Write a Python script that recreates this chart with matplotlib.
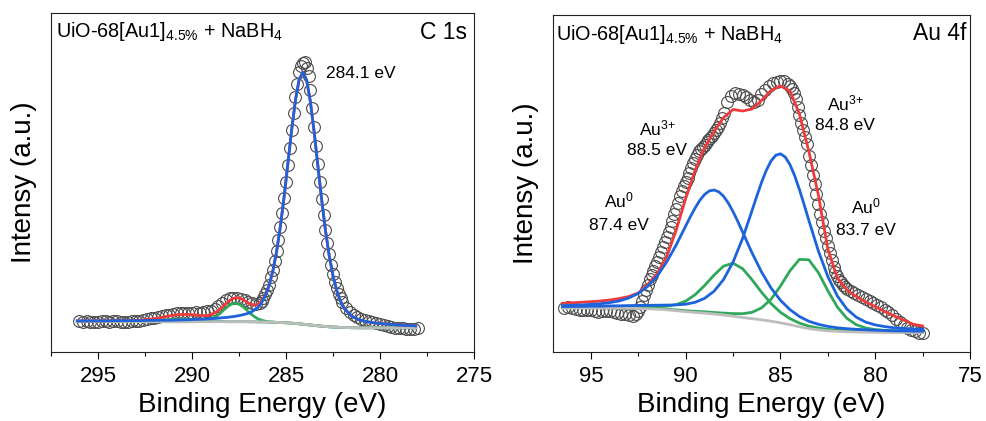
import matplotlib
matplotlib.use("Agg")
import matplotlib.pyplot as plt
from matplotlib.ticker import MultipleLocator

plt.rcParams["font.family"] = ["Liberation Sans", "DejaVu Sans"]
plt.rcParams["mathtext.fontset"] = "custom"
plt.rcParams["mathtext.rm"] = "Liberation Sans"
plt.rcParams["mathtext.it"] = "Liberation Sans:italic"
plt.rcParams["mathtext.bf"] = "Liberation Sans:bold"

# ---------------- C 1s panel ----------------
c1s_energy = [
    296.0, 295.8, 295.6, 295.4, 295.2, 295.0, 294.8, 294.6, 294.4, 294.2,
    294.0, 293.8, 293.6, 293.4, 293.2, 293.0, 292.8, 292.6, 292.4, 292.2,
    292.0, 291.8, 291.6, 291.4, 291.2, 291.0, 290.8, 290.6, 290.4, 290.2,
    290.0, 289.8, 289.6, 289.4, 289.2, 289.0, 288.8, 288.6, 288.4, 288.2,
    288.0, 287.8, 287.6, 287.4, 287.2, 287.0, 286.8, 286.6, 286.4,
    286.3, 286.2, 286.1, 286.0, 285.9, 285.8, 285.7, 285.6, 285.5, 285.4,
    285.3, 285.2, 285.1, 285.0, 284.9, 284.8, 284.7, 284.6, 284.5, 284.4,
    284.3, 284.2, 284.1, 284.0, 283.9, 283.8, 283.7, 283.6, 283.5, 283.4,
    283.3, 283.2, 283.1, 283.0, 282.9, 282.8, 282.7, 282.6, 282.5, 282.4,
    282.3, 282.2, 282.1, 282.0,
    281.8, 281.6, 281.4, 281.2, 281.0, 280.8, 280.6, 280.4, 280.2, 280.0,
    279.8, 279.6, 279.4, 279.2, 279.0, 278.8, 278.6, 278.4, 278.2, 278.0,
]
c1s_counts = [
    30.8, 30.2, 31.0, 30.5, 29.8, 30.4, 31.2, 30.6, 30.0, 30.8,
    31.3, 30.5, 29.9, 30.4, 31.0, 30.7, 31.5, 32.3, 33.0, 33.6,
    34.5, 35.3, 36.0, 36.8, 37.5, 38.0, 38.6, 38.8, 39.2, 39.0,
    39.4, 39.8, 39.5, 40.0, 40.6, 41.5, 43.5, 46.0, 49.0, 51.8,
    53.6, 54.5, 54.0, 53.2, 52.0, 50.3, 48.8, 48.0, 48.6,
    51.5, 54.5, 58.0, 62.0, 67.5, 75.0, 82.0, 91.0, 101.0, 112.0,
    125.0, 139.0, 154.0, 170.0, 187.0, 204.0, 222.0, 239.0, 255.0, 268.0,
    280.0, 286.0, 289.5, 290.0, 284.0, 276.0, 262.0, 244.0, 225.0, 206.0,
    188.0, 170.0, 153.0, 137.0, 122.5, 109.5, 98.0, 87.5, 78.5, 70.5,
    64.0, 58.5, 54.0, 50.0,
    44.5, 40.5, 37.5, 35.5, 33.5, 32.5, 31.0, 30.0, 29.0, 28.2,
    27.0, 26.0, 25.3, 24.5, 24.0, 23.6, 23.5, 23.3, 23.2, 24.0,
]

c1s_fit_energy = [
    296.1, 295.1, 294.1, 293.1, 292.1, 291.5, 291.1, 290.7, 290.3, 289.9,
    289.5, 289.1, 288.7, 288.5, 288.3, 288.1, 287.9, 287.7, 287.5, 287.3,
    287.1, 286.9, 286.7, 286.5, 286.3, 286.1, 285.9, 285.7, 285.5, 285.3,
    285.1, 284.9, 284.7, 284.5, 284.3, 284.1, 283.9, 283.7, 283.5, 283.3,
    283.1, 282.9, 282.7, 282.5, 282.3, 282.1, 281.9, 281.5, 281.1, 280.7,
    280.3, 279.7, 279.1, 278.5, 278.1,
]
c1s_background = [
    30.6, 30.5, 30.5, 30.4, 30.4, 30.3, 30.3, 30.3, 30.3, 30.3,
    30.3, 30.3, 30.3, 30.3, 30.3, 30.3, 30.3, 30.3, 30.3, 30.3,
    30.3, 30.2, 30.2, 30.1, 30.1, 30.0, 29.9, 29.8, 29.6, 29.5,
    29.3, 29.1, 28.8, 28.5, 28.2, 27.8, 27.4, 27.0, 26.6, 26.2,
    25.8, 25.5, 25.2, 25.0, 24.8, 24.6, 24.5, 24.3, 24.2, 24.2,
    24.2, 24.2, 24.2, 24.2, 24.2,
]
c1s_cc = [  # C-C / C=C, 284.1 eV
    31.1, 31.1, 31.3, 31.3, 31.6, 31.7, 31.8, 32.0, 32.2, 32.5,
    32.8, 33.2, 33.7, 34.0, 34.4, 34.7, 35.2, 35.7, 36.4, 37.2,
    38.2, 39.5, 41.6, 44.5, 49.2, 56.2, 66.4, 81.0, 100.5, 125.5,
    155.3, 188.4, 221.8, 251.5, 272.5, 279.8, 271.7, 250.0, 219.6, 185.5,
    151.8, 121.5, 96.1, 76.2, 61.3, 50.8, 43.6, 35.7, 32.1, 30.3,
    29.1, 27.9, 27.1, 26.5, 26.2,
]
c1s_co = [  # O-C=O
    30.6, 30.5, 30.5, 30.4, 30.4, 30.3, 30.3, 30.3, 30.3, 30.3,
    30.6, 31.9, 35.7, 38.7, 42.2, 45.5, 47.9, 48.8, 47.9, 45.5,
    42.2, 38.6, 35.6, 33.2, 31.7, 30.8, 30.2, 29.9, 29.6, 29.5,
    29.3, 29.1, 28.8, 28.5, 28.2, 27.8, 27.4, 27.0, 26.6, 26.2,
    25.8, 25.5, 25.2, 25.0, 24.8, 24.6, 24.5, 24.3, 24.2, 24.2,
    24.2, 24.2, 24.2, 24.2, 24.2,
]
c1s_sat = [  # shake-up
    30.6, 30.5, 30.5, 30.4, 31.4, 32.1, 32.5, 32.7, 32.7, 32.5,
    32.0, 31.3, 30.8, 30.6, 30.5, 30.3, 30.3, 30.3, 30.3, 30.3,
    30.3, 30.2, 30.2, 30.1, 30.1, 30.0, 29.9, 29.8, 29.6, 29.5,
    29.3, 29.1, 28.8, 28.5, 28.2, 27.8, 27.4, 27.0, 26.6, 26.2,
    25.8, 25.5, 25.2, 25.0, 24.8, 24.6, 24.5, 24.3, 24.2, 24.2,
    24.2, 24.2, 24.2, 24.2, 24.2,
]
c1s_envelope = [
    31.1, 31.1, 31.3, 31.4, 33.1, 35.0, 36.5, 37.4, 37.6, 37.2,
    36.4, 36.6, 39.9, 42.7, 46.5, 49.9, 52.8, 54.2, 54.0, 52.4,
    50.1, 47.9, 47.0, 47.6, 50.8, 57.0, 66.8, 81.1, 100.5, 125.5,
    155.3, 188.4, 221.8, 251.5, 272.5, 279.8, 271.7, 250.0, 219.6, 185.5,
    151.8, 121.5, 96.1, 76.2, 61.3, 50.8, 43.6, 35.7, 32.1, 30.3,
    29.1, 27.9, 27.1, 26.5, 26.2,
]

# ---------------- Au 4f panel ----------------
au_energy = [
    96.4, 96.2, 96.0, 95.8, 95.6, 95.4, 95.2, 95.0, 94.8, 94.6,
    94.4, 94.2, 94.0, 93.8, 93.6, 93.4, 93.2, 93.0, 92.8, 92.6,
    92.5, 92.4, 92.3, 92.2, 92.1, 92.0, 91.9, 91.8, 91.7, 91.6,
    91.5, 91.4, 91.3, 91.2, 91.1, 91.0, 90.9, 90.8, 90.7, 90.6,
    90.5, 90.4, 90.3, 90.2, 90.1, 90.0, 89.9, 89.8, 89.7, 89.6,
    89.5, 89.4, 89.3, 89.2, 89.1, 89.0, 88.9, 88.8, 88.7, 88.6,
    88.5, 88.4, 88.3, 88.2, 88.1, 88.0,
    87.8, 87.6, 87.4, 87.2, 87.0, 86.8, 86.6, 86.4, 86.2, 86.0,
    85.8, 85.6, 85.4, 85.2, 85.0, 84.8, 84.6,
    84.5, 84.4, 84.3, 84.2, 84.1, 84.0, 83.9, 83.8, 83.7, 83.6,
    83.5, 83.4, 83.3, 83.2, 83.1, 83.0, 82.9, 82.8, 82.7, 82.6,
    82.5, 82.4, 82.3, 82.2, 82.1, 82.0, 81.9, 81.8, 81.7, 81.6,
    81.5,
    81.3, 81.1, 80.9, 80.7, 80.5, 80.3, 80.1, 79.9, 79.7, 79.5,
    79.3, 79.1, 78.9, 78.7, 78.5, 78.3, 78.1, 77.9, 77.7, 77.5,
]
au_counts = [
    44.5, 45.0, 44.0, 42.8, 42.0, 41.8, 42.5, 42.0, 41.0, 40.2,
    40.6, 41.5, 41.2, 40.0, 39.0, 38.2, 38.0, 37.0, 36.5, 38.0,
    41.0, 45.5, 51.0, 57.0, 62.5, 67.5, 73.0, 77.5, 81.5, 86.0,
    90.5, 95.0, 100.0, 105.0, 110.0, 115.0, 120.0, 125.5, 131.5, 138.0,
    143.0, 149.5, 156.0, 161.5, 166.0, 170.0, 174.5, 179.5, 184.5, 189.5,
    193.5, 197.5, 201.0, 203.5, 205.5, 207.5, 210.0, 212.0, 214.0, 216.5,
    219.5, 222.5, 225.5, 229.5, 234.0, 239.5,
    250.5, 256.5, 258.7, 258.5, 257.0, 255.0, 252.5, 250.5, 252.5, 258.5,
    262.5, 266.0, 269.0, 270.5, 271.3, 271.0, 268.5,
    266.0, 263.0, 259.0, 253.0, 245.0, 237.5, 229.5, 222.5, 215.0, 208.0,
    196.0, 187.0, 177.5, 168.0, 158.0, 148.0, 138.0, 130.0, 121.5, 114.0,
    106.5, 99.5, 92.0, 85.0, 80.0, 76.0, 72.5, 70.0, 67.5, 65.5,
    63.5,
    61.0, 59.0, 57.0, 55.5, 53.5, 51.5, 49.5, 47.5, 45.0, 42.5,
    40.0, 37.0, 33.5, 30.0, 27.0, 24.5, 22.5, 21.0, 19.5, 18.7,
]

au_fit_energy = [
    96.5, 96.0, 95.5, 95.0, 94.5, 94.0, 93.5, 93.0, 92.5, 92.0,
    91.5, 91.0, 90.5, 90.0, 89.5, 89.0, 88.5, 88.0, 87.5, 87.0,
    86.5, 86.0, 85.5, 85.0, 84.5, 84.0, 83.5, 83.0, 82.5, 82.0,
    81.5, 81.0, 80.5, 80.0, 79.5, 79.0, 78.5, 78.0, 77.5,
]
au_background = [
    44.0, 44.0, 44.0, 44.0, 43.9, 43.9, 43.8, 43.7, 43.5, 43.2,
    42.8, 42.2, 41.3, 40.4, 39.6, 38.9, 38.0, 37.0, 35.8, 34.5,
    33.3, 32.2, 30.8, 29.2, 27.3, 25.2, 23.4, 22.2, 21.2, 20.6,
    20.2, 20.0, 19.8, 19.7, 19.6, 19.5, 19.5, 19.5, 19.5,
]
au3_52_energy = [
    96.5, 96.0, 95.5, 95.0, 94.5, 94.0, 93.5, 93.0, 92.5, 92.0,
    91.5, 91.0, 90.5, 90.0, 89.75, 89.5, 89.25, 89.0, 88.75, 88.5,
    88.25, 88.0, 87.75, 87.5, 87.25, 87.0, 86.5, 86.0, 85.5, 85.0,
    84.5, 84.0, 83.5, 83.0, 82.5, 82.0, 81.5, 81.0, 80.5, 80.0,
    79.5, 79.0, 78.5, 78.0, 77.5,
]
au3_52 = [  # Au3+ 4f5/2, 88.5 eV
    46.4, 46.7, 47.1, 47.6, 48.3, 49.4, 51.1, 54.0, 58.6, 65.7,
    76.1, 90.1, 107.1, 126.0, 135.4, 144.1, 151.8, 157.6, 161.1, 162.0,
    160.1, 155.7, 148.9, 140.3, 130.6, 120.1, 99.1, 80.1, 64.1, 51.7,
    42.4, 35.5, 30.7, 27.7, 25.6, 24.2, 23.3, 22.7, 22.2, 21.8,
    21.5, 21.2, 21.1, 20.9, 20.8,
]
au3_72_energy = [
    96.5, 96.0, 95.5, 95.0, 94.5, 94.0, 93.5, 93.0, 92.5, 92.0,
    91.5, 91.0, 90.5, 90.0, 89.5, 89.0, 88.5, 88.0, 87.5, 87.0,
    86.5, 86.25, 86.0, 85.75, 85.5, 85.25, 85.0, 84.75, 84.5, 84.25,
    84.0, 83.75, 83.5, 83.0, 82.5, 82.0, 81.5, 81.0, 80.5, 80.0,
    79.5, 79.0, 78.5, 78.0, 77.5,
]
au3_72 = [  # Au3+ 4f7/2, 84.8 eV
    45.4, 45.5, 45.6, 45.8, 45.8, 46.1, 46.2, 46.4, 46.6, 46.7,
    46.8, 46.9, 47.1, 47.8, 49.7, 53.7, 60.8, 72.5, 90.0, 113.4,
    141.4, 155.8, 169.5, 181.5, 191.0, 196.7, 198.2, 195.0, 187.5, 176.3,
    162.5, 147.3, 131.5, 101.1, 75.4, 56.1, 43.0, 34.8, 29.9, 27.1,
    25.4, 24.2, 23.5, 23.0, 22.6,
]
au0_52 = [  # Au0 4f5/2, 87.4 eV
    44.5, 44.5, 44.6, 44.7, 44.6, 44.8, 44.8, 44.9, 44.9, 45.0,
    45.2, 45.9, 47.4, 50.9, 57.3, 66.5, 77.0, 85.9, 88.8, 83.4,
    72.3, 59.8, 48.5, 39.7, 33.4, 28.9, 25.8, 24.0, 22.6, 21.8,
    21.2, 20.9, 20.5, 20.4, 20.2, 20.0, 20.0, 19.9, 19.9,
]
au0_72 = [  # Au0 4f7/2, 83.7 eV
    44.2, 44.3, 44.3, 44.3, 44.2, 44.3, 44.2, 44.1, 44.0, 43.7,
    43.4, 42.9, 42.1, 41.3, 40.7, 40.2, 39.5, 38.9, 38.4, 38.3,
    39.7, 44.1, 52.7, 65.9, 81.2, 92.6, 92.2, 79.4, 61.3, 45.0,
    33.7, 27.3, 24.0, 22.4, 21.6, 21.1, 20.8, 20.6, 20.5,
]
au_envelope = [
    48.7, 49.2, 49.8, 50.3, 51.0, 52.0, 53.5, 55.5, 59.0, 67.5,
    78.5, 95.5, 122.0, 153.5, 182.0, 204.5, 220.5, 234.5, 242.5, 241.0,
    243.0, 251.5, 261.5, 266.0, 261.0, 238.0, 200.5, 157.0, 103.0, 74.0,
    62.0, 55.5, 50.0, 45.3, 40.5, 36.0, 32.0, 27.8, 26.0,
]

BLUE = "#1d63dc"
RED = "#ee3b3b"
GREEN = "#2fa85a"
GRAY = "#bdbdbd"
DOT = "#4a4a4a"
LW = 2.0


def style_axis(ax, xlim, major):
    ax.set_xlim(*xlim)
    ax.set_xticks(major)
    ax.xaxis.set_minor_locator(MultipleLocator(2.5))
    ax.set_yticks([])
    ax.tick_params(axis="x", which="major", direction="out", length=5,
                   width=0.8, labelsize=16, pad=5)
    ax.tick_params(axis="x", which="minor", direction="out", length=3, width=0.8)
    for s in ax.spines.values():
        s.set_linewidth(0.8)
        s.set_color("#222222")
    ax.set_xlabel("Binding Energy (eV)", fontsize=20, labelpad=4)
    ax.set_ylabel("Intensy (a.u.)", fontsize=20, labelpad=10)


fig = plt.figure(figsize=(9.87, 4.21), dpi=100)
ax1 = fig.add_axes([51 / 987, 69 / 421, 423 / 987, 339 / 421])
ax2 = fig.add_axes([553 / 987, 69 / 421, 417 / 987, 337 / 421])

title = r"UiO-68[Au1]$_{\mathrm{4.5\%}}$ + NaBH$_{\mathrm{4}}$"

# C 1s
ax1.plot(c1s_energy, c1s_counts, "o", mfc="none", mec=DOT, mew=0.8, ms=8.5, zorder=1)
ax1.plot(c1s_fit_energy, c1s_sat, color=GREEN, lw=LW, zorder=2)
ax1.plot(c1s_fit_energy, c1s_co, color=GREEN, lw=LW, zorder=2)
ax1.plot(c1s_fit_energy, c1s_background, color=GRAY, lw=LW, zorder=3)
ax1.plot(c1s_fit_energy, c1s_envelope, color=RED, lw=LW, zorder=4)
ax1.plot(c1s_fit_energy, c1s_cc, color=BLUE, lw=LW, zorder=5)
ax1.set_ylim(0, 339)
style_axis(ax1, (297.5, 275), [295, 290, 285, 280, 275])
ax1.text(0.012, 0.93, title, transform=ax1.transAxes, fontsize=14.3,
         ha="left", va="baseline")
ax1.text(0.983, 0.922, "C 1s", transform=ax1.transAxes, fontsize=16.5,
         ha="right", va="baseline")
ax1.text(282.87, 273.7, "284.1 eV", fontsize=12.5, ha="left", va="baseline")

# Au 4f
ax2.plot(au_energy, au_counts, "o", mfc="none", mec=DOT, mew=0.8, ms=8.5, zorder=1)
ax2.plot(au_fit_energy, au0_52, color=GREEN, lw=LW, zorder=2)
ax2.plot(au_fit_energy, au0_72, color=GREEN, lw=LW, zorder=2)
ax2.plot(au_fit_energy, au_background, color=GRAY, lw=LW, zorder=3)
ax2.plot(au_fit_energy, au_envelope, color=RED, lw=LW, zorder=4)
ax2.plot(au3_52_energy, au3_52, color=BLUE, lw=LW, zorder=5)
ax2.plot(au3_72_energy, au3_72, color=BLUE, lw=LW, zorder=5)
ax2.set_ylim(0, 337)
style_axis(ax2, (97, 75), [95, 90, 85, 80, 75])
ax2.text(0.007, 0.926, title, transform=ax2.transAxes, fontsize=14.3,
         ha="left", va="baseline")
ax2.text(0.992, 0.926, "Au 4f", transform=ax2.transAxes, fontsize=16.5,
         ha="right", va="baseline")

peak_labels = [
    (81.59, 242, 222, r"Au$^{3{+}}$", "84.8 eV"),
    (91.51, 217, 197, r"Au$^{3{+}}$", "88.5 eV"),
    (93.54, 145, 122, r"Au$^{0}$", "87.4 eV"),
    (80.51, 139, 117, r"Au$^{0}$", "83.7 eV"),
]
for x, y_top, y_bot, species, energy in peak_labels:
    ax2.text(x, y_top, species, fontsize=12.5, ha="center", va="baseline")
    ax2.text(x, y_bot, energy, fontsize=12.5, ha="center", va="baseline")

fig.savefig("out.png", dpi=100)
